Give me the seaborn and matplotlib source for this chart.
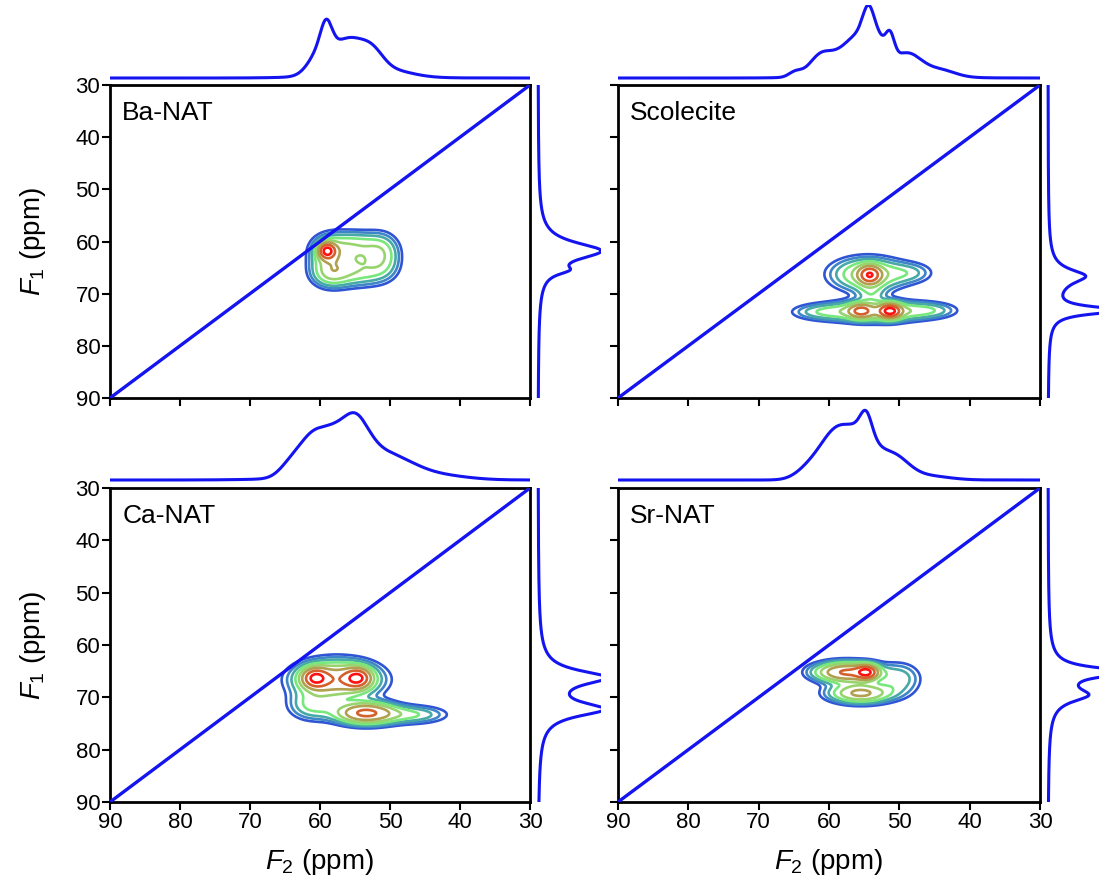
import numpy as np
import pandas as pd
import seaborn as sns
import matplotlib
matplotlib.use("Agg")
import matplotlib.pyplot as plt

sns.set_theme(style="white")
plt.rcParams['font.family'] = ['Liberation Sans', 'DejaVu Sans']
plt.rcParams['mathtext.fontset'] = 'custom'
plt.rcParams['mathtext.rm'] = 'Liberation Sans'
plt.rcParams['mathtext.it'] = 'Liberation Sans:italic'
plt.rcParams['text.color'] = 'black'
plt.rcParams['axes.labelcolor'] = 'black'
plt.rcParams['xtick.color'] = 'black'
plt.rcParams['ytick.color'] = 'black'

# ---------------- data ----------------
panel_names = ['Ba-NAT', 'Scolecite', 'Ca-NAT', 'Sr-NAT']
ppm_ticks = [90, 80, 70, 60, 50, 40, 30]

# 2D cross peaks: (F2 centre, F1 centre, F2 sigma, F1 sigma, amplitude)
ba_peaks = [(59.0, 61.8, 0.8, 1.0, 0.65), (58.6, 62.5, 1.8, 2.3, 0.22),
            (55.0, 61.0, 2.6, 1.8, 0.22), (55.0, 65.5, 2.8, 1.9, 0.22),
            (51.2, 62.8, 1.6, 2.5, 0.20), (58.5, 66.2, 1.7, 1.7, 0.18)]
sc_peaks = [(54.2, 66.4, 1.0, 1.1, 0.50), (54.5, 66.3, 3.2, 2.0, 0.28),
            (48.5, 66.0, 2.2, 1.3, 0.10), (51.3, 73.3, 1.0, 0.9, 0.60),
            (55.5, 73.3, 1.1, 0.9, 0.35), (53.5, 73.4, 4.2, 1.3, 0.30),
            (46.0, 73.2, 2.7, 1.0, 0.13), (61.0, 73.5, 2.8, 1.0, 0.12),
            (54.0, 70.0, 1.3, 1.4, 0.10)]
ca_peaks = [(60.7, 66.3, 1.2, 1.2, 0.48), (54.6, 66.3, 1.2, 1.2, 0.48),
            (57.6, 66.6, 3.6, 2.2, 0.42), (53.5, 73.0, 2.7, 1.3, 0.50),
            (47.0, 73.3, 3.2, 1.1, 0.14), (61.0, 71.5, 2.2, 1.8, 0.15)]
sr_peaks = [(54.6, 65.2, 1.0, 0.9, 0.48), (57.5, 65.2, 2.8, 1.2, 0.50),
            (55.5, 69.2, 2.8, 1.2, 0.35), (50.0, 66.5, 2.0, 2.0, 0.12)]

# F2 (top) projections, Gaussian components: (centre, sigma, height)
ba_top = [(59.1, 0.8, 25), (60.0, 1.6, 22), (56.0, 2.2, 34),
          (52.5, 1.6, 17), (50.0, 3.0, 6), (55.0, 6.0, 3)]
sc_top = [(54.4, 0.8, 28), (51.3, 0.6, 20), (55.5, 2.0, 36), (52.8, 1.2, 18),
          (61.2, 1.6, 20), (58.5, 1.6, 10), (48.8, 2.0, 20), (44.0, 2.0, 6),
          (64.8, 0.9, 5), (53.0, 6.0, 6)]
ca_top = [(61.0, 2.2, 40), (55.0, 1.7, 22), (55.5, 2.8, 33), (50.0, 3.5, 20),
          (43.0, 4.0, 4), (64.5, 1.5, 8), (56.0, 8.0, 3), (58.0, 1.5, 10)]
sr_top = [(58.8, 2.4, 50), (54.7, 0.8, 20), (55.0, 1.8, 32), (51.0, 2.2, 24),
          (63.0, 1.8, 8), (46.0, 3.0, 4)]

# F1 (side) projections, Lorentzian components: (centre, half width, height)
ba_side = [(61.8, 2.0, 62), (65.5, 1.0, 18)]
sc_side = [(66.6, 1.5, 30), (73.2, 0.85, 70), (68.0, 3.0, 8)]
ca_side = [(66.2, 1.6, 60), (72.3, 1.6, 60), (68.0, 4.0, 6)]
sr_side = [(65.2, 1.0, 75), (69.6, 1.5, 32), (67.0, 3.5, 8)]

contour_levels = [0.05, 0.08, 0.12, 0.18, 0.27, 0.40, 0.60, 0.85]
contour_colors = ['#2f55d4', '#3f86c8', '#48aaa6', '#78e87c',
                  '#98d46e', '#b0a050', '#d4602c', '#ff1010']

panels = [(ba_peaks, ba_top, ba_side), (sc_peaks, sc_top, sc_side),
          (ca_peaks, ca_top, ca_side), (sr_peaks, sr_top, sr_side)]

# ---------------- helpers ----------------
f_axis = np.linspace(min(ppm_ticks), max(ppm_ticks), 601)
F2, F1 = np.meshgrid(f_axis, f_axis)


def field(peaks):
    z = np.zeros_like(F2)
    for c2, c1, s2, s1, a in peaks:
        z += a * np.exp(-((F2 - c2) ** 2 / (2 * s2 ** 2) + (F1 - c1) ** 2 / (2 * s1 ** 2)))
    return z / z.max()


def gauss_sum(comps):
    y = np.zeros_like(f_axis)
    for c, s, h in comps:
        y += h * np.exp(-(f_axis - c) ** 2 / (2 * s ** 2))
    return y


def lor_sum(comps):
    y = np.zeros_like(f_axis)
    for c, g, h in comps:
        y += h / (1 + ((f_axis - c) / g) ** 2)
    return y


W, H = 1099, 892
fig = plt.figure(figsize=(W / 100, H / 100), dpi=100)


def px_axes(x0, y0, x1, y1):
    return fig.add_axes([x0 / W, 1 - y1 / H, (x1 - x0) / W, (y1 - y0) / H])


main_boxes = [(110, 85, 530, 398), (618, 85, 1040, 398),
              (110, 488, 530, 802), (618, 488, 1040, 802)]
line_blue = '#1414f0'
tick_fs = 16
lab_fs = 20
name_fs = 19

for i, (box, name, (peaks, top, side)) in enumerate(zip(main_boxes, panel_names, panels)):
    x0, y0, x1, y1 = box
    row, col = divmod(i, 2)
    ax = px_axes(*box)
    z = field(peaks)
    ax.contour(F2, F1, z, levels=contour_levels, colors=contour_colors,
               linewidths=1.9, zorder=2)
    diag = pd.DataFrame({'f2': [max(ppm_ticks), min(ppm_ticks)],
                         'f1': [max(ppm_ticks), min(ppm_ticks)]})
    sns.lineplot(data=diag, x='f2', y='f1', ax=ax, color=line_blue, lw=2.4,
                 zorder=3, sort=False)
    ax.set_xlim(max(ppm_ticks), min(ppm_ticks))
    ax.set_ylim(max(ppm_ticks), min(ppm_ticks))
    ax.set_xticks(ppm_ticks)
    ax.set_yticks(ppm_ticks)
    ax.tick_params(axis='both', direction='out', length=6, width=1.5,
                   labelsize=tick_fs, color='black', labelcolor='black',
                   bottom=True, left=True, pad=1)
    for sp in ax.spines.values():
        sp.set_color('black')
        sp.set_linewidth(2)
    if col == 1:
        ax.set_yticklabels([])
    if row == 0:
        ax.set_xticklabels([])
    ax.set_xlabel(r'$\mathit{F}_2$ (ppm)' if row == 1 else '', fontsize=lab_fs, labelpad=10)
    ax.set_ylabel(r'$\mathit{F}_1$ (ppm)' if col == 0 else '', fontsize=lab_fs, labelpad=20)
    ax.text(0.029, 0.91, name, transform=ax.transAxes, fontsize=name_fs,
            ha='left', va='center', color='black')

    # top projection (units: pixel heights)
    top_y0 = 5 if row == 0 else 407
    axt = px_axes(x0, top_y0, x1, top_y0 + 77)
    dft = pd.DataFrame({'f2': f_axis, 'I': gauss_sum(top)})
    sns.lineplot(data=dft, x='f2', y='I', ax=axt, color=line_blue, lw=2.2, sort=False)
    axt.set_xlim(max(ppm_ticks), min(ppm_ticks))
    axt.set_ylim(-4, 73)
    axt.axis('off')

    # side projection
    axs = px_axes(x1 + 1, y0, x1 + 71, y1)
    dfs = pd.DataFrame({'f1': f_axis, 'I': lor_sum(side)})
    sns.lineplot(data=dfs, x='I', y='f1', ax=axs, color=line_blue, lw=2.2,
                 sort=False, orient='y')
    axs.set_ylim(max(ppm_ticks), min(ppm_ticks))
    axs.set_xlim(-7, 63)
    axs.axis('off')

fig.savefig('out.png', dpi=100)
